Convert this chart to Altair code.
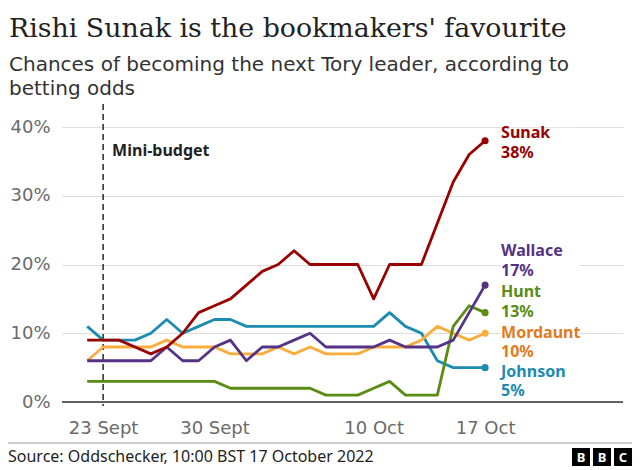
import altair as alt
import pandas as pd

dates = ["2022-09-22", "2022-09-23", "2022-09-24", "2022-09-25", "2022-09-26",
         "2022-09-27", "2022-09-28", "2022-09-29", "2022-09-30", "2022-10-01",
         "2022-10-02", "2022-10-03", "2022-10-04", "2022-10-05", "2022-10-06",
         "2022-10-07", "2022-10-08", "2022-10-09", "2022-10-10", "2022-10-11",
         "2022-10-12", "2022-10-13", "2022-10-14", "2022-10-15", "2022-10-16",
         "2022-10-17"]

sunak = [9, 9, 9, 8, 7, 8, 10, 13, 14, 15, 17, 19, 20, 22, 20, 20, 20, 20, 15, 20, 20, 20, 26, 32, 36, 38]
johnson = [11, 9, 9, 9, 10, 12, 10, 11, 12, 12, 11, 11, 11, 11, 11, 11, 11, 11, 11, 13, 11, 10, 6, 5, 5, 5]
mordaunt = [6, 8, 8, 8, 8, 9, 8, 8, 8, 7, 7, 7, 8, 7, 8, 7, 7, 7, 8, 8, 8, 9, 11, 10, 9, 10]
wallace = [6, 6, 6, 6, 6, 8, 6, 6, 8, 9, 6, 8, 8, 9, 10, 8, 8, 8, 8, 9, 8, 8, 8, 9, 13, 17]
hunt = [3, 3, 3, 3, 3, 3, 3, 3, 3, 2, 2, 2, 2, 2, 2, 1, 1, 1, 2, 3, 1, 1, 1, 11, 14, 13]

names = ["Johnson", "Mordaunt", "Hunt", "Wallace", "Sunak"]
series = {"Sunak": sunak, "Johnson": johnson, "Mordaunt": mordaunt,
          "Wallace": wallace, "Hunt": hunt}
line_colors = {"Sunak": "#990000", "Johnson": "#1b8bb0", "Mordaunt": "#fbad3c",
               "Wallace": "#563286", "Hunt": "#5a8c14"}
label_colors = {"Sunak": "#990000", "Johnson": "#1b8bb0", "Mordaunt": "#e07b1e",
                "Wallace": "#563286", "Hunt": "#5a8c14"}
# where the name line of each end label sits (in % units)
label_y = {"Sunak": 39.1, "Wallace": 21.9, "Hunt": 16.0, "Mordaunt": 10.05, "Johnson": 4.4}

event_dates = ["2022-09-23"]
event_labels = ["Mini-budget"]

tick_dates = [(2022, 9, 23), (2022, 9, 30), (2022, 10, 10), (2022, 10, 17)]
y_ticks = [0, 10, 20, 30, 40]

title = "Rishi Sunak is the bookmakers' favourite"
subtitle = ["Chances of becoming the next Tory leader, according to", "betting odds"]
source = "Source: Oddschecker, 10:00 BST 17 October 2022"
logo = ["B", "B", "C"]

W, H = 561, 275
SANS = "Noto Sans"
AX = "DejaVu Sans"

rows = []
for n in names:
    for d, v in zip(dates, series[n]):
        rows.append({"date": d, "name": n, "value": v, "color": line_colors[n]})
df = pd.DataFrame(rows)

last = pd.DataFrame([{"date": dates[-1], "name": n, "value": series[n][-1],
                      "pct": f"{series[n][-1]}%", "ly": label_y[n],
                      "color": line_colors[n], "lcolor": label_colors[n]} for n in names])

xscale = alt.Scale(type="utc", domain=[
    alt.DateTime(year=2022, month=9, date=20, hours=10, utc=True),
    alt.DateTime(year=2022, month=10, date=25, hours=16, utc=True)])
yscale = alt.Scale(domain=[0, 40])

xaxis = alt.Axis(values=[alt.DateTime(year=y, month=m, date=d, utc=True) for y, m, d in tick_dates],
                 labelExpr="replace(utcFormat(datum.value, '%-d %b'), 'Sep', 'Sept')",
                 grid=False, domain=False, ticks=False, labelFont=AX, labelFontSize=18,
                 labelColor="#6a6a6a", labelPadding=17, title=None)
yaxis = alt.Axis(values=y_ticks, labelExpr="datum.value + '%'", grid=True,
                 gridColor="#dcdcdc", gridWidth=1, domain=False, ticks=False,
                 labelFont=AX, labelFontSize=18, labelColor="#6a6a6a",
                 labelPadding=12, title=None)

base = alt.Chart(df).encode(
    x=alt.X("date:T", scale=xscale, axis=xaxis),
    y=alt.Y("value:Q", scale=yscale, axis=yaxis),
)

layers = []
layers.append(base.mark_line(opacity=0).encode(detail="name:N"))

# baseline
layers.append(alt.Chart(pd.DataFrame({"v": [0]})).mark_rule(color="#333333", strokeWidth=1.5).encode(
    y=alt.Y("v:Q", scale=yscale), x=alt.value(0), x2=alt.value(W)))

# event line
ev = pd.DataFrame({"date": event_dates, "label": event_labels})
layers.append(alt.Chart(ev).mark_rule(color="#333333", strokeWidth=1.6, strokeDash=[6, 4]).encode(
    x=alt.X("date:T", scale=xscale), y=alt.value(-23), y2=alt.value(H + 4)))
layers.append(alt.Chart(ev).mark_text(align="left", baseline="middle", font=SANS, fontSize=16,
                                      fontWeight="bold", color="#222222", dx=9).encode(
    x=alt.X("date:T", scale=xscale), y=alt.value(24), text="label:N"))

for n in names:
    sub = df[df["name"] == n]
    layers.append(alt.Chart(sub).mark_line(strokeWidth=2.8, strokeJoin="round", color=line_colors[n]).encode(
        x=alt.X("date:T", scale=xscale), y=alt.Y("value:Q", scale=yscale)))

layers.append(alt.Chart(last).mark_circle(size=50, opacity=1).encode(
    x=alt.X("date:T", scale=xscale), y=alt.Y("value:Q", scale=yscale),
    color=alt.Color("color:N", scale=None)))

# white backing boxes behind the end labels (break the gridlines like the original)
layers.append(alt.Chart(last).mark_rect(color="white", opacity=1, width=78, height=32,
                                        xOffset=55, yOffset=10.5).encode(
    x=alt.X("date:T", scale=xscale), y=alt.Y("ly:Q", scale=yscale)))

text_kw = dict(align="left", baseline="middle", font=SANS, fontSize=16,
               fontWeight="bold", dx=16)
layers.append(alt.Chart(last).mark_text(**text_kw).encode(
    x=alt.X("date:T", scale=xscale), y=alt.Y("ly:Q", scale=yscale), text="name:N",
    color=alt.Color("lcolor:N", scale=None)))
layers.append(alt.Chart(last).mark_text(dy=19.5, **text_kw).encode(
    x=alt.X("date:T", scale=xscale), y=alt.Y("ly:Q", scale=yscale), text="pct:N",
    color=alt.Color("lcolor:N", scale=None)))

# footer
layers.append(alt.Chart(pd.DataFrame({"t": [source]})).mark_rule(color="#999999", strokeWidth=1).encode(
    x=alt.value(-54), x2=alt.value(W + 9), y=alt.value(316)))
layers.append(alt.Chart(pd.DataFrame({"t": [source]})).mark_text(
    align="left", baseline="middle", font=SANS, fontSize=16, color="#222222").encode(
    x=alt.value(-54), y=alt.value(330), text="t:N"))
for i, letter in enumerate(logo):
    cx = 519 + i * 21
    ld = pd.DataFrame({"t": [letter]})
    layers.append(alt.Chart(ld).mark_square(size=324, color="black", opacity=1).encode(
        x=alt.value(cx), y=alt.value(330)))
    layers.append(alt.Chart(ld).mark_text(font=SANS, fontSize=13, fontWeight="bold", color="white",
                                          baseline="middle", align="center", dy=1).encode(
        x=alt.value(cx), y=alt.value(330), text="t:N"))

chart = alt.layer(*layers).properties(
    width=W, height=H,
    title=alt.TitleParams(text=title, subtitle=subtitle, anchor="start", frame="group",
                          font="DejaVu Serif", fontSize=26.8, fontWeight="normal", color="#222222",
                          subtitleFont=AX, subtitleFontSize=20, subtitleColor="#333333",
                          subtitleLineHeight=24, subtitlePadding=12, offset=4, dx=-53),
    autosize=alt.AutoSizeParams(type="none"),
    padding={"left": 54, "top": 119, "right": 9, "bottom": 66},
).configure_view(stroke=None)

chart.save("out.html", embed_options={"renderer": "svg", "actions": False})
